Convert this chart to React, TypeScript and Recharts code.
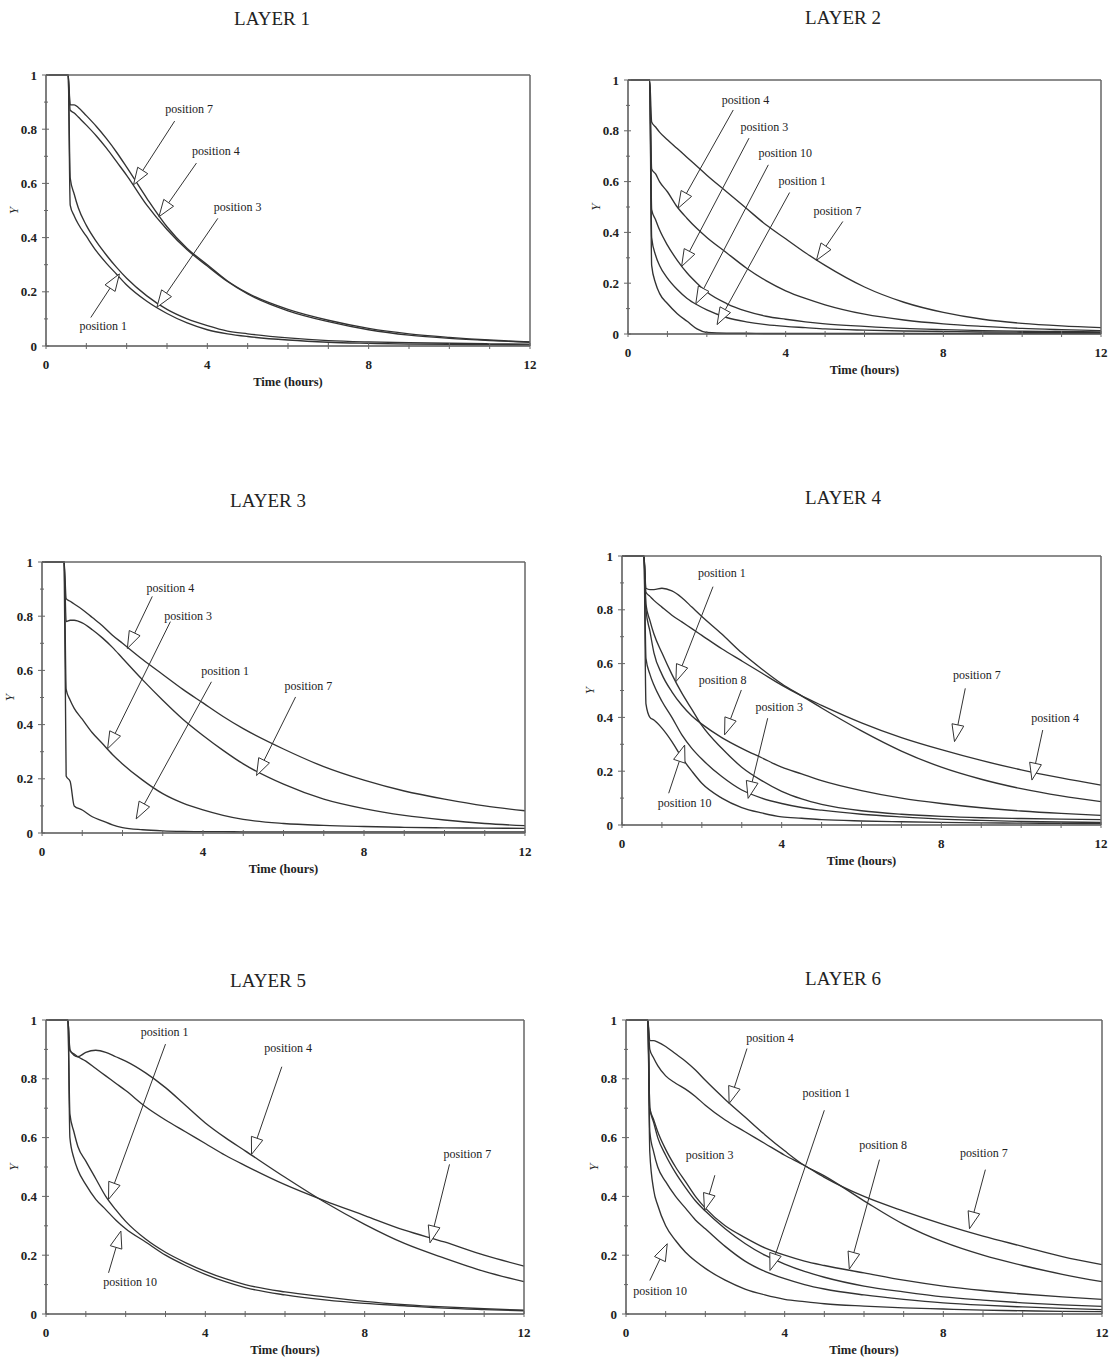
import React from 'react';
import { LineChart, Line, XAxis, YAxis, ReferenceLine, ReferenceDot } from 'recharts';

const FONT = '"Liberation Serif", "Times New Roman", serif';
const INK = '#333333';

// ---- shared axes ----
const TIME = [0, 0.55, 0.6, 0.7, 0.8, 1, 1.25, 1.5, 1.75, 2, 2.5, 3, 3.5, 4, 4.5, 5, 6, 7, 8, 9, 10, 11, 12];
const X_TICKS = [0, 1, 2, 3, 4, 5, 6, 7, 8, 9, 10, 11, 12];
const X_LABELED = [0, 4, 8, 12];
const Y_TICKS = [0, 0.1, 0.2, 0.3, 0.4, 0.5, 0.6, 0.7, 0.8, 0.9, 1];
const Y_LABELED = [0, 0.2, 0.4, 0.6, 0.8, 1];
const X_TITLE = 'Time (hours)';
const Y_TITLE = 'Y';

// ---- LAYER 1 ----
const L1_POS7 = [1, 1, 0.89, 0.89, 0.88, 0.85, 0.81, 0.765, 0.715, 0.66, 0.545, 0.44, 0.36, 0.3, 0.24, 0.195, 0.135, 0.095, 0.065, 0.045, 0.032, 0.022, 0.015];
const L1_POS4 = [1, 1, 0.87, 0.86, 0.845, 0.815, 0.775, 0.73, 0.68, 0.63, 0.52, 0.43, 0.355, 0.295, 0.238, 0.192, 0.13, 0.09, 0.06, 0.04, 0.028, 0.02, 0.014];
const L1_POS3 = [1, 1, 0.62, 0.56, 0.51, 0.445, 0.385, 0.335, 0.29, 0.25, 0.185, 0.135, 0.1, 0.075, 0.055, 0.045, 0.03, 0.02, 0.015, 0.012, 0.01, 0.008, 0.007];
const L1_POS1 = [1, 1, 0.52, 0.48, 0.45, 0.405, 0.35, 0.305, 0.265, 0.225, 0.165, 0.12, 0.085, 0.06, 0.045, 0.035, 0.022, 0.014, 0.01, 0.007, 0.006, 0.005, 0.004];

// ---- LAYER 2 ----
const L2_POS7 = [1, 1, 0.835, 0.815, 0.795, 0.765, 0.73, 0.695, 0.66, 0.625, 0.56, 0.495, 0.43, 0.375, 0.32, 0.27, 0.185, 0.125, 0.085, 0.058, 0.042, 0.032, 0.025];
const L2_POS4 = [1, 1, 0.65, 0.63, 0.6, 0.56, 0.5, 0.455, 0.415, 0.38, 0.32, 0.26, 0.21, 0.17, 0.14, 0.115, 0.078, 0.055, 0.04, 0.03, 0.022, 0.017, 0.013];
const L2_POS3 = [1, 1, 0.49, 0.45, 0.41, 0.35, 0.29, 0.24, 0.2, 0.165, 0.12, 0.09, 0.07, 0.058, 0.048, 0.04, 0.03, 0.022, 0.017, 0.013, 0.011, 0.01, 0.008];
const L2_POS10 = [1, 1, 0.38, 0.31, 0.27, 0.22, 0.175, 0.14, 0.115, 0.095, 0.065, 0.048, 0.037, 0.03, 0.025, 0.02, 0.015, 0.012, 0.01, 0.008, 0.007, 0.006, 0.005];
const L2_POS1 = [1, 1, 0.27, 0.2, 0.16, 0.12, 0.08, 0.05, 0.02, 0.006, 0.003, 0.003, 0.002, 0.002, 0.002, 0.002, 0.002, 0.002, 0.002, 0.002, 0.002, 0.002, 0.002];

// ---- LAYER 3 ----
const L3_POS4 = [1, 1, 0.865, 0.855, 0.845, 0.825, 0.795, 0.765, 0.73, 0.7, 0.64, 0.585, 0.53, 0.48, 0.43, 0.385, 0.31, 0.245, 0.195, 0.155, 0.125, 0.1, 0.082];
const L3_POS7 = [1, 1, 0.78, 0.785, 0.785, 0.775, 0.75, 0.72, 0.685, 0.645, 0.565, 0.49, 0.42, 0.36, 0.305, 0.255, 0.18, 0.125, 0.09, 0.065, 0.048, 0.035, 0.027];
const L3_POS3 = [1, 1, 0.53, 0.49, 0.46, 0.42, 0.37, 0.33, 0.29, 0.255, 0.195, 0.145, 0.11, 0.085, 0.065, 0.05, 0.035, 0.028, 0.024, 0.021, 0.019, 0.018, 0.017];
const L3_POS1 = [1, 1, 0.21, 0.19, 0.1, 0.085, 0.06, 0.045, 0.03, 0.02, 0.012, 0.008, 0.006, 0.005, 0.005, 0.004, 0.004, 0.004, 0.004, 0.004, 0.004, 0.004, 0.004];

// ---- LAYER 4 ----
const L4_POS4 = [1, 1, 0.88, 0.875, 0.875, 0.88, 0.87, 0.845, 0.81, 0.775, 0.71, 0.64, 0.58, 0.525, 0.48, 0.435, 0.35, 0.275, 0.215, 0.17, 0.135, 0.108, 0.087];
const L4_POS7 = [1, 1, 0.865, 0.85, 0.835, 0.81, 0.78, 0.755, 0.73, 0.705, 0.655, 0.61, 0.565, 0.52, 0.48, 0.445, 0.38, 0.325, 0.28, 0.24, 0.205, 0.175, 0.148];
const L4_POS1 = [1, 1, 0.82, 0.76, 0.71, 0.64, 0.56, 0.49, 0.43, 0.37, 0.285, 0.215, 0.165, 0.125, 0.097, 0.077, 0.053, 0.04, 0.032, 0.027, 0.024, 0.022, 0.02];
const L4_POS8 = [1, 1, 0.8, 0.72, 0.64, 0.56, 0.495, 0.445, 0.405, 0.375, 0.325, 0.285, 0.25, 0.215, 0.19, 0.165, 0.128, 0.1, 0.08, 0.064, 0.052, 0.043, 0.036];
const L4_POS3 = [1, 1, 0.62, 0.56, 0.52, 0.46, 0.4, 0.335, 0.285, 0.245, 0.18, 0.13, 0.1, 0.08, 0.065, 0.055, 0.04, 0.03, 0.022, 0.017, 0.013, 0.011, 0.01];
const L4_POS10 = [1, 1, 0.45, 0.4, 0.39, 0.36, 0.31, 0.25, 0.2, 0.155, 0.1, 0.065, 0.045, 0.03, 0.025, 0.02, 0.015, 0.012, 0.01, 0.008, 0.007, 0.006, 0.005];

// ---- LAYER 5 ----
const L5_POS4 = [1, 1, 0.9, 0.88, 0.875, 0.89, 0.897, 0.89, 0.875, 0.86, 0.82, 0.77, 0.71, 0.65, 0.6, 0.555, 0.465, 0.38, 0.305, 0.24, 0.19, 0.145, 0.11];
const L5_POS7 = [1, 1, 0.895, 0.885, 0.875, 0.86, 0.835, 0.81, 0.785, 0.76, 0.705, 0.66, 0.62, 0.58, 0.54, 0.505, 0.44, 0.385, 0.335, 0.285, 0.245, 0.2, 0.163];
const L5_POS1 = [1, 1, 0.68, 0.62, 0.57, 0.52, 0.46, 0.4, 0.355, 0.315, 0.255, 0.21, 0.175, 0.145, 0.12, 0.1, 0.075, 0.058, 0.043, 0.032, 0.024, 0.018, 0.013];
const L5_POS10 = [1, 1, 0.6, 0.53, 0.49, 0.44, 0.39, 0.355, 0.32, 0.29, 0.245, 0.2, 0.165, 0.135, 0.11, 0.09, 0.065, 0.048, 0.036, 0.028, 0.02, 0.015, 0.011];

// ---- LAYER 6 ----
const L6_POS4 = [1, 1, 0.93, 0.93, 0.925, 0.91, 0.885, 0.86, 0.83, 0.795, 0.73, 0.67, 0.61, 0.555, 0.505, 0.47, 0.385, 0.305, 0.245, 0.2, 0.165, 0.135, 0.11];
const L6_POS7 = [1, 1, 0.9, 0.87, 0.845, 0.81, 0.785, 0.765, 0.74, 0.71, 0.66, 0.62, 0.58, 0.54, 0.505, 0.465, 0.4, 0.35, 0.305, 0.265, 0.23, 0.195, 0.168];
const L6_POS8 = [1, 1, 0.7, 0.66, 0.62, 0.56, 0.5, 0.45, 0.4, 0.36, 0.3, 0.26, 0.225, 0.2, 0.18, 0.165, 0.14, 0.115, 0.095, 0.08, 0.068, 0.058, 0.05];
const L6_POS3 = [1, 1, 0.7, 0.65, 0.6, 0.54, 0.48, 0.43, 0.385, 0.35, 0.29, 0.24, 0.2, 0.17, 0.145, 0.125, 0.095, 0.075, 0.058, 0.047, 0.038, 0.031, 0.026];
const L6_POS1 = [1, 1, 0.62, 0.55, 0.5, 0.45, 0.4, 0.36, 0.32, 0.29, 0.23, 0.18, 0.145, 0.12, 0.1, 0.085, 0.065, 0.05, 0.038, 0.03, 0.024, 0.019, 0.015];
const L6_POS10 = [1, 1, 0.55, 0.42, 0.37, 0.3, 0.25, 0.21, 0.18, 0.155, 0.115, 0.085, 0.065, 0.05, 0.042, 0.035, 0.027, 0.021, 0.017, 0.013, 0.011, 0.009, 0.008];

// ---- annotations: [text, labelT, labelY, tailT, tailY, tipT, tipY] ----
type Note = [string, number, number, number, number, number, number];
const L1_NOTES: Note[] = [
  ['position 7', 3.55, 0.874, 3.19, 0.83, 2.17, 0.595],
  ['position 4', 4.21, 0.719, 3.73, 0.675, 2.8, 0.477],
  ['position 3', 4.75, 0.512, 4.26, 0.471, 2.75, 0.143],
  ['position 1', 1.42, 0.074, 1.11, 0.105, 1.82, 0.266],
];
const L2_NOTES: Note[] = [
  ['position 4', 2.98, 0.924, 2.67, 0.882, 1.27, 0.495],
  ['position 3', 3.46, 0.814, 3.07, 0.771, 1.36, 0.266],
  ['position 10', 3.99, 0.712, 3.56, 0.666, 1.72, 0.119],
  ['position 1', 4.42, 0.603, 4.1, 0.557, 2.26, 0.037],
  ['position 7', 5.31, 0.486, 5.45, 0.443, 4.78, 0.29],
];
const L3_NOTES: Note[] = [
  ['position 4', 3.19, 0.906, 2.74, 0.873, 2.12, 0.681],
  ['position 3', 3.63, 0.802, 3.19, 0.78, 1.63, 0.311],
  ['position 1', 4.55, 0.598, 4.21, 0.558, 2.34, 0.052],
  ['position 7', 6.62, 0.543, 6.3, 0.502, 5.33, 0.212],
];
const L4_NOTES: Note[] = [
  ['position 1', 2.5, 0.936, 2.28, 0.886, 1.35, 0.533],
  ['position 8', 2.52, 0.541, 2.99, 0.502, 2.57, 0.335],
  ['position 3', 3.94, 0.44, 3.65, 0.397, 3.16, 0.099],
  ['position 10', 1.57, 0.083, 1.17, 0.118, 1.57, 0.297],
  ['position 7', 8.89, 0.558, 8.6, 0.508, 8.33, 0.31],
  ['position 4', 10.85, 0.399, 10.54, 0.353, 10.27, 0.167],
];
const L5_NOTES: Note[] = [
  ['position 1', 2.98, 0.961, 3.0, 0.918, 1.57, 0.39],
  ['position 4', 6.08, 0.905, 5.92, 0.841, 5.16, 0.543],
  ['position 10', 2.11, 0.109, 1.57, 0.14, 1.88, 0.282],
  ['position 7', 10.58, 0.545, 10.13, 0.509, 9.64, 0.242],
];
const L6_NOTES: Note[] = [
  ['position 4', 3.63, 0.941, 3.05, 0.903, 2.6, 0.716],
  ['position 1', 5.05, 0.752, 5.0, 0.693, 3.63, 0.148],
  ['position 8', 6.48, 0.576, 6.39, 0.525, 5.63, 0.153],
  ['position 3', 2.11, 0.543, 2.24, 0.472, 1.98, 0.352],
  ['position 7', 9.02, 0.548, 9.06, 0.491, 8.66, 0.29],
  ['position 10', 0.86, 0.08, 0.6, 0.114, 1.04, 0.239],
];

// ---- layout (pixel boxes of each plot area) ----
type Box = { x0: number; x12: number; yTop: number; yBot: number; tx: number; ty: number };
const PANELS: { title: string; series: number[][]; notes: Note[]; box: Box }[] = [
  { title: 'LAYER 1', series: [L1_POS7, L1_POS4, L1_POS3, L1_POS1], notes: L1_NOTES, box: { x0: 46, x12: 530, yTop: 75, yBot: 346, tx: 272, ty: 18 } },
  { title: 'LAYER 2', series: [L2_POS7, L2_POS4, L2_POS3, L2_POS10, L2_POS1], notes: L2_NOTES, box: { x0: 628, x12: 1101, yTop: 80, yBot: 334, tx: 843, ty: 17 } },
  { title: 'LAYER 3', series: [L3_POS4, L3_POS7, L3_POS3, L3_POS1], notes: L3_NOTES, box: { x0: 42, x12: 525, yTop: 562, yBot: 833, tx: 268, ty: 500 } },
  { title: 'LAYER 4', series: [L4_POS4, L4_POS7, L4_POS1, L4_POS8, L4_POS3, L4_POS10], notes: L4_NOTES, box: { x0: 622, x12: 1101, yTop: 556, yBot: 825, tx: 843, ty: 497 } },
  { title: 'LAYER 5', series: [L5_POS4, L5_POS7, L5_POS1, L5_POS10], notes: L5_NOTES, box: { x0: 46, x12: 524, yTop: 1020, yBot: 1314, tx: 268, ty: 980 } },
  { title: 'LAYER 6', series: [L6_POS4, L6_POS7, L6_POS8, L6_POS3, L6_POS1, L6_POS10], notes: L6_NOTES, box: { x0: 626, x12: 1102, yTop: 1020, yBot: 1314, tx: 843, ty: 978 } },
];

const ML = 50;
const MR = 30;
const MT = 15;
const MB = 32;

const near = (a: number, list: number[]) => list.some((v) => Math.abs(v - a) < 1e-6);

const YTick = (p: any) => {
  const { x, y, payload } = p;
  const v = payload.value as number;
  const major = near(v, Y_LABELED);
  const lbl = v === 0 ? '0' : v === 1 ? '1' : v.toFixed(1);
  return (
    <g>
      <line x1={x - (major ? 4 : 2)} x2={x + (major ? 3 : 2)} y1={y} y2={y} stroke="#666" strokeWidth={1} />
      {major && (
        <text x={x - 9} y={y} dy="0.35em" textAnchor="end" fontFamily={FONT} fontWeight="bold" fontSize={13} fill="#222">
          {lbl}
        </text>
      )}
    </g>
  );
};

const XTick = (p: any) => {
  const { x, y, payload } = p;
  const v = payload.value as number;
  const major = near(v, X_LABELED);
  return (
    <g>
      <line x1={x} x2={x} y1={y - 3} y2={y + 3} stroke="#666" strokeWidth={1} />
      {major && (
        <text x={x} y={y + 18} dy="0.35em" textAnchor="middle" fontFamily={FONT} fontWeight="bold" fontSize={13} fill="#222">
          {String(v)}
        </text>
      )}
    </g>
  );
};

const Arrow = (p: any) => {
  const { x1, y1, x2, y2 } = p;
  const dx = x2 - x1;
  const dy = y2 - y1;
  const len = Math.hypot(dx, dy) || 1;
  const ux = dx / len;
  const uy = dy / len;
  const L = 17;
  const W = 6;
  const bx = x2 - ux * L;
  const by = y2 - uy * L;
  const px = -uy;
  const py = ux;
  const pts = `${x2},${y2} ${bx + px * W},${by + py * W} ${bx - px * W},${by - py * W}`;
  return (
    <g>
      <line x1={x1} y1={y1} x2={bx} y2={by} stroke="#333" strokeWidth={1} />
      <polygon points={pts} fill="#fff" stroke="#333" strokeWidth={1} />
    </g>
  );
};

const noteText = (text: string) => (p: any) => (
  <text x={p.cx} y={p.cy} dy="0.35em" textAnchor="middle" fontFamily={FONT} fontSize={12} fill="#222">
    {text}
  </text>
);

function Panel({ cfg }: { cfg: (typeof PANELS)[number] }) {
  const { box } = cfg;
  const width = box.x12 - box.x0 + ML + MR;
  const height = box.yBot - box.yTop + MT + MB;
  const data = TIME.map((t, i) => {
    const row: Record<string, number> = { t };
    cfg.series.forEach((s, j) => {
      row['s' + j] = s[i];
    });
    return row;
  });
  return (
    <div style={{ position: 'absolute', left: box.x0 - ML, top: box.yTop - MT }}>
      <LineChart width={width} height={height} data={data} margin={{ top: MT, right: MR, left: 0, bottom: 0 }}>
        <XAxis
          dataKey="t"
          type="number"
          domain={[0, 12]}
          ticks={X_TICKS}
          interval={0}
          tickLine={false}
          tickSize={0}
          tickMargin={0}
          height={MB}
          axisLine={{ stroke: '#555', strokeWidth: 1.5 }}
          tick={(p: any) => <XTick {...p} />}
        />
        <YAxis
          type="number"
          domain={[0, 1]}
          ticks={Y_TICKS}
          interval={0}
          tickLine={false}
          tickSize={0}
          tickMargin={0}
          width={ML}
          axisLine={{ stroke: '#555', strokeWidth: 1.5 }}
          tick={(p: any) => <YTick {...p} />}
        />
        {cfg.series.map((_, j) => (
          <Line
            key={j}
            dataKey={'s' + j}
            type="monotone"
            stroke={INK}
            strokeWidth={1.35}
            dot={false}
            activeDot={false}
            isAnimationActive={false}
          />
        ))}
        <ReferenceLine y={1} stroke="#666" strokeWidth={1.5} ifOverflow="visible" />
        <ReferenceLine x={12} stroke="#666" strokeWidth={1.5} ifOverflow="visible" />
        {cfg.notes.map((n, k) => (
          <ReferenceLine
            key={'a' + k}
            segment={[
              { x: n[3], y: n[4] },
              { x: n[5], y: n[6] },
            ]}
            ifOverflow="visible"
            shape={(p: any) => <Arrow {...p} />}
          />
        ))}
        {cfg.notes.map((n, k) => (
          <ReferenceDot key={'l' + k} x={n[1]} y={n[2]} r={0} ifOverflow="visible" shape={noteText(n[0])} />
        ))}
      </LineChart>
    </div>
  );
}

export default function App() {
  return (
    <div style={{ position: 'absolute', left: 0, top: 0, width: 1114, height: 1364, background: '#fff', overflow: 'hidden' }}>
      {PANELS.map((cfg, i) => (
        <Panel key={i} cfg={cfg} />
      ))}
      <svg width={1114} height={1364} style={{ position: 'absolute', left: 0, top: 0, pointerEvents: 'none' }}>
        {PANELS.map((cfg, i) => {
          const b = cfg.box;
          const cy = (b.yTop + b.yBot) / 2;
          const lx = b.x0 - 33;
          return (
            <g key={i}>
              <text x={b.tx} y={b.ty} dy="0.35em" textAnchor="middle" fontFamily={FONT} fontSize={19} fill="#222">
                {cfg.title}
              </text>
              <text x={(b.x0 + b.x12) / 2} y={b.yBot + 36} dy="0.35em" textAnchor="middle" fontFamily={FONT} fontWeight="bold" fontSize={12.5} fill="#222">
                {X_TITLE}
              </text>
              <text
                x={lx}
                y={cy}
                dy="0.35em"
                textAnchor="middle"
                fontFamily={FONT}
                fontStyle="italic"
                fontSize={13}
                fill="#222"
                transform={`rotate(-90 ${lx} ${cy})`}
              >
                {Y_TITLE}
              </text>
            </g>
          );
        })}
      </svg>
    </div>
  );
}
